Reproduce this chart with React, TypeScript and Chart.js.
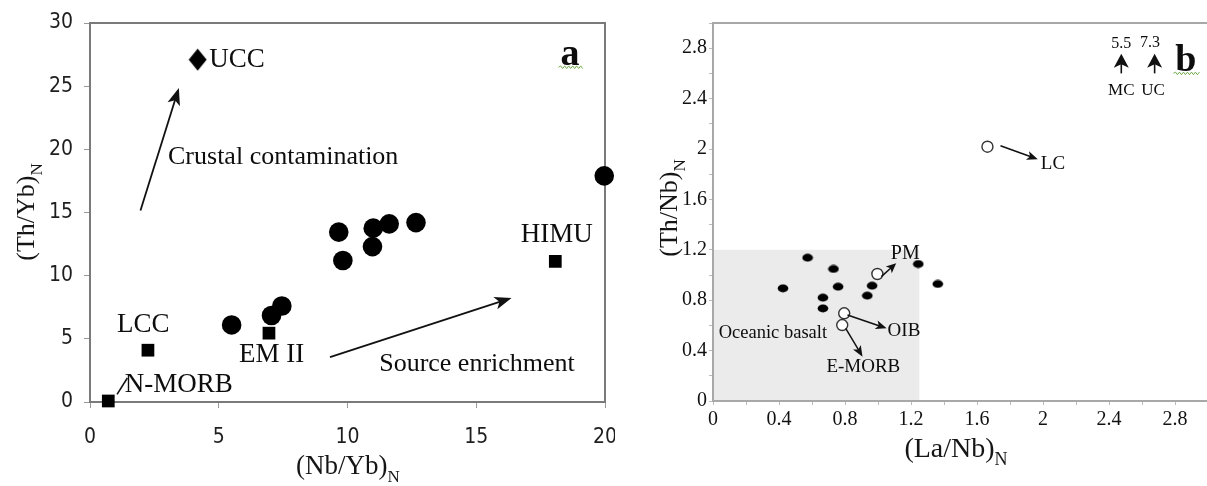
import React, { useEffect, useRef } from 'react';
import { Chart, registerables } from 'chart.js';

Chart.register(...registerables);

const SERIF = '"Liberation Serif", "Times New Roman", Times, serif';
const NARROW = '"Liberation Sans Narrow", "DejaVu Sans Condensed", "Arial Narrow", "Liberation Sans", sans-serif';

// ---------- Panel a : (Nb/Yb)N vs (Th/Yb)N ----------
const aXTicks = [0, 5, 10, 15, 20];
const aYTicks = [0, 5, 10, 15, 20, 25, 30];
const aSampleNbYb = [5.5, 7.05, 7.45, 9.66, 9.82, 10.97, 11.0, 11.62, 12.66, 19.97];
const aSampleThYb = [6.1, 6.85, 7.6, 13.45, 11.2, 12.3, 13.76, 14.1, 14.2, 17.9];
const aRefNames = ['N-MORB', 'LCC', 'EM II', 'HIMU'];
const aRefNbYb = [0.71, 2.25, 6.95, 18.07];
const aRefThYb = [0.08, 4.1, 5.45, 11.13];
const aUccNbYb = [4.18];
const aUccThYb = [27.1];

// ---------- Panel b : (La/Nb)N vs (Th/Nb)N ----------
const bTickValues = [0, 0.2, 0.4, 0.6, 0.8, 1.0, 1.2, 1.4, 1.6, 1.8, 2.0, 2.2, 2.4, 2.6, 2.8, 3.0];
const bTickLabels = ['0', '', '0.4', '', '0.8', '', '1.2', '', '1.6', '', '2', '', '2.4', '', '2.8', ''];
const bSampleLaNb = [0.424, 0.573, 0.73, 0.758, 0.666, 0.666, 0.935, 0.964, 1.244, 1.362];
const bSampleThNb = [0.894, 1.137, 1.048, 0.907, 0.82, 0.735, 0.836, 0.915, 1.087, 0.929];
const bRefNames = ['PM', 'OIB', 'E-MORB', 'LC'];
const bRefLaNb = [0.996, 0.795, 0.783, 1.663];
const bRefThNb = [1.008, 0.696, 0.603, 2.018];
const bOceanicField = { xMax: 1.25, yMax: 1.2 };

type Label = { t: string; x: number; y: number; align: CanvasTextAlign; size: number; bold?: boolean };
type Arrow = { x1: number; y1: number; x2: number; y2: number; head: number; width: number; lw: number };

const aLabels: Label[] = [
  { t: 'UCC', x: 4.63, y: 27.1, align: 'left', size: 27 },
  { t: 'LCC', x: 2.07, y: 6.13, align: 'center', size: 27 },
  { t: 'N-MORB', x: 1.35, y: 1.34, align: 'left', size: 27 },
  { t: 'EM II', x: 7.05, y: 3.72, align: 'center', size: 27 },
  { t: 'HIMU', x: 18.13, y: 13.24, align: 'center', size: 27 },
  { t: 'Crustal contamination', x: 3.03, y: 19.4, align: 'left', size: 26 },
  { t: 'Source enrichment', x: 11.23, y: 2.97, align: 'left', size: 26 },
  { t: 'a', x: 18.64, y: 27.45, align: 'center', size: 38, bold: true },
];
const aArrows: Arrow[] = [
  { x1: 1.96, y1: 15.16, x2: 3.45, y2: 24.85, head: 17, width: 13, lw: 1.8 },
  { x1: 9.32, y1: 3.55, x2: 16.37, y2: 8.24, head: 17, width: 13, lw: 1.8 },
  { x1: 1.05, y1: 0.6, x2: 1.45, y2: 1.9, head: 0, width: 0, lw: 1.6 },
];
const aSquiggle = { x1: 18.2, x2: 19.15, y: 26.5 };

const bLabels: Label[] = [
  { t: 'PM', x: 1.165, y: 1.167, align: 'center', size: 20 },
  { t: 'LC', x: 2.06, y: 1.88, align: 'center', size: 19 },
  { t: 'OIB', x: 1.157, y: 0.556, align: 'center', size: 19 },
  { t: 'E-MORB', x: 0.911, y: 0.272, align: 'center', size: 19 },
  { t: 'Oceanic basalt', x: 0.363, y: 0.54, align: 'center', size: 18.5 },
  { t: '5.5', x: 2.473, y: 2.833, align: 'center', size: 16 },
  { t: '7.3', x: 2.648, y: 2.844, align: 'center', size: 16 },
  { t: 'MC', x: 2.474, y: 2.468, align: 'center', size: 17 },
  { t: 'UC', x: 2.667, y: 2.468, align: 'center', size: 17 },
  { t: 'b', x: 2.865, y: 2.693, align: 'center', size: 38, bold: true },
];
const bArrows: Arrow[] = [
  { x1: 1.02, y1: 0.987, x2: 1.11, y2: 1.093, head: 10, width: 9, lw: 1.5 },
  { x1: 1.742, y1: 2.026, x2: 1.968, y2: 1.918, head: 11, width: 9, lw: 1.5 },
  { x1: 0.815, y1: 0.682, x2: 1.052, y2: 0.577, head: 11, width: 9, lw: 1.5 },
  { x1: 0.804, y1: 0.577, x2: 0.906, y2: 0.352, head: 11, width: 9, lw: 1.5 },
  { x1: 2.474, y1: 2.6, x2: 2.474, y2: 2.755, head: 14, width: 15, lw: 1.6 },
  { x1: 2.676, y1: 2.6, x2: 2.676, y2: 2.755, head: 14, width: 15, lw: 1.6 },
];
const bSquiggle = { x1: 2.79, x2: 2.95, y: 2.6 };

type Title = { main: string; sub: string; cx: number; cy: number; size: number; subSize: number; drop: number; rotate: boolean };

const aTitles: Title[] = [
  { main: '(Nb/Yb)', sub: 'N', cx: 348, cy: 474, size: 27, subSize: 17, drop: 8, rotate: false },
  { main: '(Th/Yb)', sub: 'N', cx: 34, cy: 212, size: 26, subSize: 17, drop: 8, rotate: true },
];
const bTitles: Title[] = [
  { main: '(La/Nb)', sub: 'N', cx: 956, cy: 457, size: 28, subSize: 18, drop: 8, rotate: false },
  { main: '(Th/Nb)', sub: 'N', cx: 677, cy: 208, size: 26, subSize: 17, drop: 8, rotate: true },
];

function drawArrow(ctx: CanvasRenderingContext2D, x1: number, y1: number, x2: number, y2: number, head: number, width: number, lw: number) {
  const ang = Math.atan2(y2 - y1, x2 - x1);
  const ux = Math.cos(ang), uy = Math.sin(ang);
  const nx = -uy, ny = ux;
  ctx.save();
  ctx.strokeStyle = '#111';
  ctx.fillStyle = '#111';
  ctx.lineWidth = lw;
  ctx.beginPath();
  ctx.moveTo(x1, y1);
  ctx.lineTo(x2 - ux * head * 0.6, y2 - uy * head * 0.6);
  ctx.stroke();
  if (head > 0) {
    ctx.beginPath();
    ctx.moveTo(x2, y2);
    ctx.lineTo(x2 - ux * head + nx * width / 2, y2 - uy * head + ny * width / 2);
    ctx.lineTo(x2 - ux * head * 0.75, y2 - uy * head * 0.75);
    ctx.lineTo(x2 - ux * head - nx * width / 2, y2 - uy * head - ny * width / 2);
    ctx.closePath();
    ctx.fill();
  }
  ctx.restore();
}

function drawSquiggle(ctx: CanvasRenderingContext2D, x1: number, x2: number, y: number) {
  ctx.save();
  ctx.strokeStyle = '#6fae4a';
  ctx.lineWidth = 1;
  ctx.beginPath();
  let up = true;
  ctx.moveTo(x1, y);
  for (let x = x1 + 2; x <= x2; x += 2) {
    ctx.lineTo(x, y + (up ? -1.3 : 1.3));
    up = !up;
  }
  ctx.stroke();
  ctx.restore();
}

function makePlugin(opts: {
  offsetX: number; labels: Label[]; arrows: Arrow[]; titles: Title[];
  squiggle: { x1: number; x2: number; y: number }; frameColor: string; shade?: { xMax: number; yMax: number };
}) {
  return {
    id: 'annot',
    beforeDatasetsDraw(chart: any) {
      const ctx: CanvasRenderingContext2D = chart.ctx;
      const ca = chart.chartArea;
      const xs = chart.scales.x, ys = chart.scales.y;
      if (opts.shade) {
        const L = xs.getPixelForValue(0) + 1;
        const R = xs.getPixelForValue(opts.shade.xMax);
        const T = ys.getPixelForValue(opts.shade.yMax);
        const B = ys.getPixelForValue(0) - 1;
        ctx.save();
        ctx.fillStyle = '#ebebeb';
        ctx.fillRect(L, T, R - L, B - T);
        ctx.restore();
      }
      ctx.save();
      ctx.strokeStyle = opts.frameColor;
      ctx.lineWidth = 2;
      ctx.beginPath();
      ctx.moveTo(ca.left, ca.top);
      ctx.lineTo(ca.right, ca.top);
      ctx.lineTo(ca.right, ca.bottom);
      ctx.stroke();
      ctx.restore();
    },
    afterDraw(chart: any) {
      const ctx: CanvasRenderingContext2D = chart.ctx;
      const xs = chart.scales.x, ys = chart.scales.y;
      const px = (v: number) => xs.getPixelForValue(v);
      const py = (v: number) => ys.getPixelForValue(v);
      ctx.save();
      ctx.fillStyle = '#0d0d0d';
      ctx.textBaseline = 'middle';
      for (const l of opts.labels) {
        ctx.font = `${l.bold ? 'bold ' : ''}${l.size}px ${SERIF}`;
        ctx.textAlign = l.align;
        ctx.fillText(l.t, px(l.x), py(l.y));
      }
      ctx.restore();
      for (const a of opts.arrows) {
        drawArrow(ctx, px(a.x1), py(a.y1), px(a.x2), py(a.y2), a.head, a.width, a.lw);
      }
      drawSquiggle(ctx, px(opts.squiggle.x1), px(opts.squiggle.x2), py(opts.squiggle.y));
      for (const t of opts.titles) {
        ctx.save();
        ctx.fillStyle = '#151515';
        ctx.textBaseline = 'alphabetic';
        ctx.textAlign = 'left';
        const mainFont = `${t.size}px ${SERIF}`;
        const subFont = `${t.subSize}px ${SERIF}`;
        ctx.font = mainFont;
        const w1 = ctx.measureText(t.main).width;
        ctx.font = subFont;
        const w2 = ctx.measureText(t.sub).width;
        const total = w1 + w2;
        if (t.rotate) {
          ctx.translate(t.cx - opts.offsetX, t.cy);
          ctx.rotate(-Math.PI / 2);
          ctx.font = mainFont;
          ctx.fillText(t.main, -total / 2, 0);
          ctx.font = subFont;
          ctx.fillText(t.sub, -total / 2 + w1, t.drop);
        } else {
          const sx = t.cx - opts.offsetX - total / 2;
          ctx.font = mainFont;
          ctx.fillText(t.main, sx, t.cy);
          ctx.font = subFont;
          ctx.fillText(t.sub, sx + w1, t.cy + t.drop);
        }
        ctx.restore();
      }
    },
  };
}

function makeAxis(o: {
  min: number; max: number; values: number[]; label: (v: number, i: number) => string; horizontal: boolean;
  size: number; font: any; color: string; padding: number; tickLength: number; tickColor: string; borderColor: string;
}) {
  return {
    type: 'linear',
    min: o.min,
    max: o.max,
    afterBuildTicks: (s: any) => { s.ticks = o.values.map((v) => ({ value: v })); },
    afterFit: (s: any) => {
      if (o.horizontal) s.height = o.size; else s.width = o.size;
      s.paddingLeft = 0; s.paddingRight = 0; s.paddingTop = 0; s.paddingBottom = 0;
    },
    ticks: {
      font: o.font, color: o.color, padding: o.padding, autoSkip: false, maxRotation: 0, minRotation: 0,
      callback: (v: any, i: number) => o.label(Number(v), i),
    },
    grid: { display: true, drawOnChartArea: false, drawTicks: true, tickLength: o.tickLength, color: o.tickColor, lineWidth: 1 },
    border: { display: true, color: o.borderColor, width: 2 },
  };
}

function makeImage(w: number, h: number, draw: (c: CanvasRenderingContext2D) => void) {
  const c = document.createElement('canvas');
  c.width = w; c.height = h;
  const g = c.getContext('2d')!;
  draw(g);
  return c;
}

export default function App() {
  const refA = useRef<HTMLCanvasElement>(null);
  const refB = useRef<HTMLCanvasElement>(null);

  useEffect(() => {
    const diamond = makeImage(19, 23, (g) => {
      g.fillStyle = '#000';
      g.beginPath(); g.moveTo(9.5, 0.5); g.lineTo(18.5, 11.5); g.lineTo(9.5, 22.5); g.lineTo(0.5, 11.5); g.closePath(); g.fill();
    });
    const ellipse = makeImage(12, 9, (g) => {
      g.fillStyle = '#000';
      g.beginPath(); g.ellipse(6, 4.5, 5.3, 3.9, 0, 0, Math.PI * 2); g.fill();
    });

    const fontA = { family: NARROW, size: 21 };
    const chartA = new Chart(refA.current!, {
      type: 'scatter',
      data: {
        datasets: [
          {
            label: 'Samples',
            data: aSampleNbYb.map((x, i) => ({ x, y: aSampleThYb[i] })),
            pointStyle: 'circle', pointRadius: 9.8, backgroundColor: '#000', borderWidth: 0, clip: false,
          },
          {
            label: 'Reference',
            data: aRefNbYb.map((x, i) => ({ x, y: aRefThYb[i], name: aRefNames[i] })),
            pointStyle: 'rect', pointRadius: 9, backgroundColor: '#000', borderWidth: 0, clip: false,
          },
          {
            label: 'UCC',
            data: aUccNbYb.map((x, i) => ({ x, y: aUccThYb[i] })),
            pointStyle: diamond, pointRadius: 10, backgroundColor: '#000', borderWidth: 0, clip: false,
          },
        ] as any,
      },
      options: {
        responsive: false,
        animation: false,
        devicePixelRatio: 1,
        events: [],
        layout: { padding: { left: 0, top: 23, right: 7, bottom: 0 } },
        plugins: { legend: { display: false }, tooltip: { enabled: false } },
        scales: {
          x: makeAxis({
            min: 0, max: 20, values: aXTicks, label: (v) => String(v), horizontal: true, size: 84,
            font: fontA, color: '#1e1e1e', padding: 17, tickLength: 6, tickColor: '#999', borderColor: '#7a7a7a',
          }),
          y: makeAxis({
            min: 0, max: 30, values: aYTicks, label: (v) => String(v), horizontal: false, size: 90,
            font: fontA, color: '#1e1e1e', padding: 11, tickLength: 6, tickColor: '#999', borderColor: '#7a7a7a',
          }),
        } as any,
      },
      plugins: [makePlugin({ offsetX: 0, labels: aLabels, arrows: aArrows, titles: aTitles, squiggle: aSquiggle, frameColor: '#7a7a7a' })],
    } as any);

    const fontB = { family: SERIF, size: 20 };
    const chartB = new Chart(refB.current!, {
      type: 'scatter',
      data: {
        datasets: [
          {
            label: 'Samples',
            data: bSampleLaNb.map((x, i) => ({ x, y: bSampleThNb[i] })),
            pointStyle: ellipse, pointRadius: 5, backgroundColor: '#000', borderWidth: 0, clip: false,
          },
          {
            label: 'Reference',
            data: bRefLaNb.map((x, i) => ({ x, y: bRefThNb[i], name: bRefNames[i] })),
            pointStyle: 'circle', pointRadius: 5.5, backgroundColor: '#fff', borderColor: '#333', borderWidth: 1.4, clip: false,
          },
        ] as any,
      },
      options: {
        responsive: false,
        animation: false,
        devicePixelRatio: 1,
        events: [],
        layout: { padding: { left: 0, top: 23, right: 5, bottom: 0 } },
        plugins: { legend: { display: false }, tooltip: { enabled: false } },
        scales: {
          x: makeAxis({
            min: 0, max: 3, values: bTickValues, label: (_v, i) => bTickLabels[i] ?? '', horizontal: true, size: 85,
            font: fontB, color: '#111', padding: 3, tickLength: 4, tickColor: '#bbb', borderColor: '#a8a8a8',
          }),
          y: makeAxis({
            min: 0, max: 3, values: bTickValues, label: (_v, i) => bTickLabels[i] ?? '', horizontal: false, size: 98,
            font: fontB, color: '#111', padding: 2, tickLength: 4, tickColor: '#bbb', borderColor: '#a8a8a8',
          }),
        } as any,
      },
      plugins: [makePlugin({ offsetX: 615, labels: bLabels, arrows: bArrows, titles: bTitles, squiggle: bSquiggle, frameColor: '#a8a8a8', shade: bOceanicField })],
    } as any);

    return () => { chartA.destroy(); chartB.destroy(); };
  }, []);

  return (
    <div style={{ position: 'fixed', left: 0, top: 0, width: 1207, height: 486, overflow: 'hidden', background: '#fff' }}>
      <canvas ref={refA} width={615} height={486} style={{ position: 'absolute', left: 0, top: 0, width: 615, height: 486 }} />
      <canvas ref={refB} width={600} height={486} style={{ position: 'absolute', left: 615, top: 0, width: 600, height: 486 }} />
    </div>
  );
}
